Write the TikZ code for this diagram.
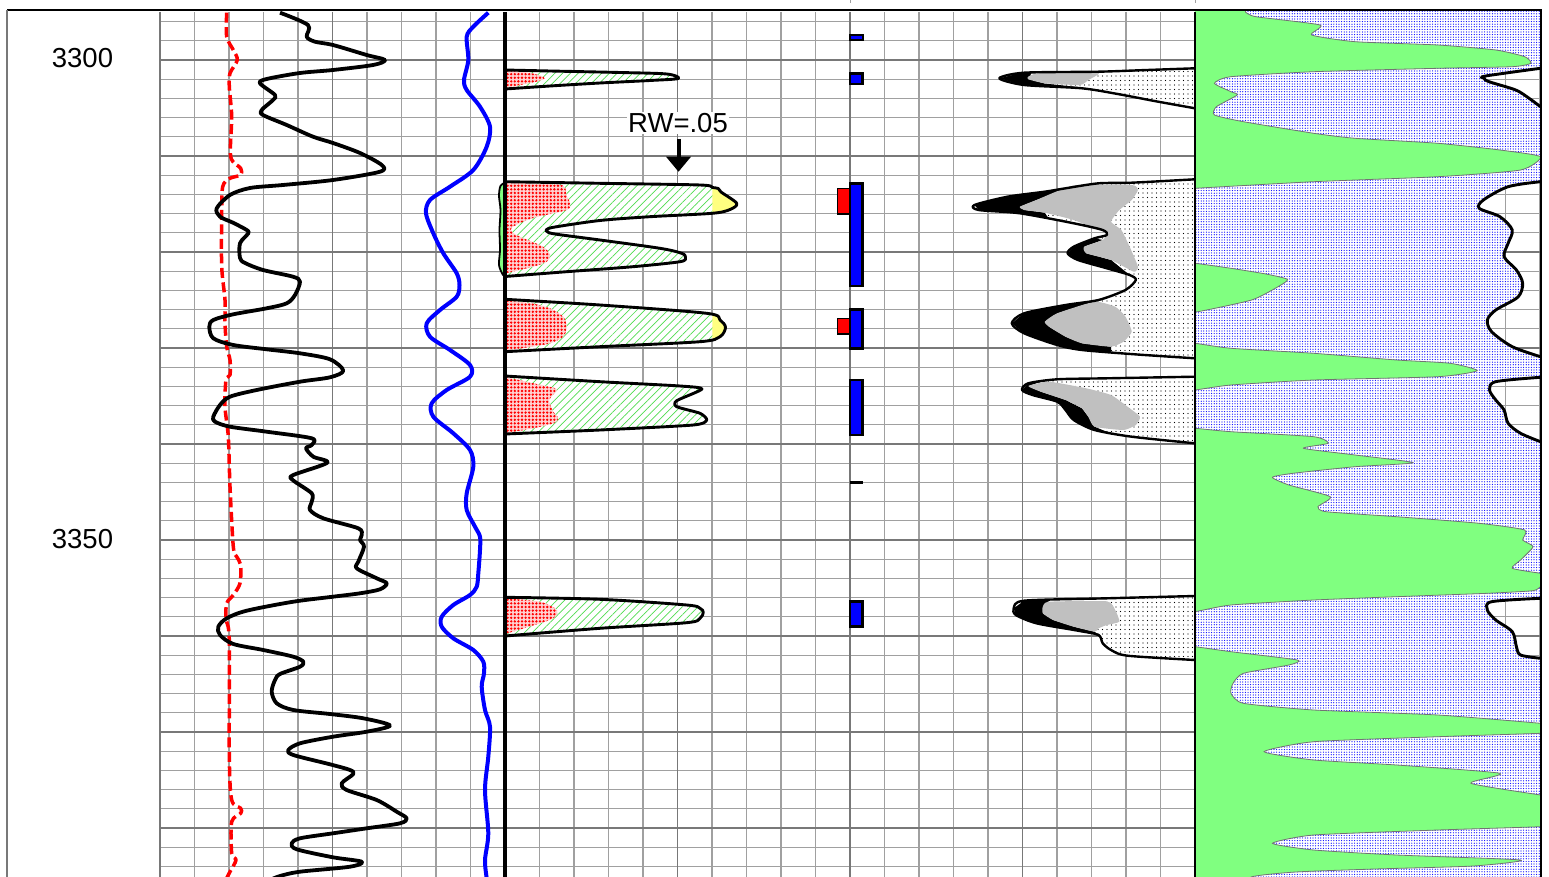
\documentclass[tikz,border=0pt]{standalone}
\usepackage{fontspec}
\setmainfont{Liberation Sans}
\usetikzlibrary{patterns.meta,arrows.meta}
\definecolor{gridc}{RGB}{160,160,160}
\definecolor{gridm}{RGB}{120,120,120}
\definecolor{lgreen}{RGB}{128,255,128}
\definecolor{lyellow}{RGB}{255,255,128}
\definecolor{lgrey}{RGB}{192,192,192}
\definecolor{hatchc}{RGB}{80,220,80}
\tikzset{
  gridminor/.style={draw=gridc, line width=1.2pt},
  gridmajor/.style={draw=gridm, line width=1.6pt},
  hatchfill/.style={pattern={Lines[angle=45,distance=5.5pt,line width=0.7pt]}, pattern color=hatchc},
  reddots/.style={pattern={Dots[radius=1.3pt,distance=3.6pt]}, pattern color=red},
  blkdots/.style={pattern={Dots[radius=0.65pt,distance=4.5pt]}, pattern color=black},
  bluedots/.style={pattern={Dots[radius=0.62pt,distance=2.6pt]}, pattern color=blue},
  corr/.style={xshift=10.08pt, xscale=0.9888},
  shapeline/.style={draw=black, line width=2.9pt, line join=round},
  lbl/.style={font=\fontsize{27.5}{30}\selectfont, inner sep=1pt},
  bluebar/.style={fill=blue, draw=black, line width=2.6pt},
  redbar/.style={fill=red, draw=black, line width=1.3pt},
  logcurve/.style={line width=3.8pt, line join=round}
}
\newcommand\loggrid{%
  \foreach \k in {-2,...,42}{\draw[gridminor] (160,{60+19.2*\k}) -- (1540,{60+19.2*\k});}
  \foreach \j in {0,...,40}{\draw[gridminor] ({160+34.5*\j},12) -- ({160+34.5*\j},877);}
  \foreach \yy in {60,156,...,828}{\draw[gridmajor] (160,\yy) -- (1540,\yy);}
  \foreach \xx in {160,332.5,677.5,850,1022.5,1195,1367.5}{\draw[gridmajor] (\xx,12) -- (\xx,877);}
}
% track 2 shapes
\def\lgA{plot[smooth,tension=0.5] coordinates {(505,70) (550,71) (620,72.5) (666.7,74) (678.3,78.5) (650,80.5) (600,83) (550,86) (505,89)}}
\def\rdA{plot[smooth,tension=0.5] coordinates {(505,70.5) (525,72) (540,75.5) (545,78.5) (535,82) (520,85) (505,88)}}
\def\lgB{plot[smooth,tension=0.5] coordinates {(505,181.7) (600,183.3) (700,185) (712.3,187.5) (718.3,188.5) (721,192) (736.7,203.3) (730,209.5) (712.3,213.3) (650,216.7) (600,220.5) (555,227) (546.7,229.5) (547,231.5) (555,234) (600,240) (660,248.3) (681.7,253.3) (685.5,257.5) (680,261.7) (633,266.7) (566.7,271.7) (505,276.5)}}
\def\rdB{plot[smooth,tension=0.5] coordinates {(505,182) (540,184) (563,185.5) (567,196.7) (570,203) (566.7,210) (533,218) (513,226.7) (511.7,231.7) (520,236.7) (543,246.7) (550,255) (546.7,261.7) (533,266.7) (505,273.5)}}
\def\lgC{plot[smooth,tension=0.5] coordinates {(505,299.3) (600,305) (706.7,313.3) (720,320) (725.5,327.3) (720,336.7) (700,341.7) (600,346.7) (505,351.7)}}
\def\rdC{plot[smooth,tension=0.5] coordinates {(505,300.7) (530,303) (550,308.3) (563.3,316.7) (566.7,326.7) (563.3,336.7) (550,343.3) (530,347) (505,350.7)}}
\def\lgD{plot[smooth,tension=0.4] coordinates {(505,376) (600,381.7) (680,386) (702,389) (676.7,400.7) (676.7,406.7) (700,413.3) (706.7,420) (693.3,425) (600,430) (505,434)}}
\def\rdD{plot[smooth,tension=0.5] coordinates {(505,376.7) (533.3,383.3) (551.7,387.3) (557,390) (549.3,400) (553.3,411.7) (558.3,418.3) (553.3,423.3) (533.3,428.3) (505,433.3)}}
\def\lgE{plot[smooth,tension=0.5] coordinates {(505,597.3) (600,599.3) (686.7,605) (700,608.3) (703.3,612.3) (700,618.3) (686.7,622.7) (600,628.3) (505,636)}}
\def\rdE{plot[smooth,tension=0.5] coordinates {(505,598.3) (540,601.7) (555,608.3) (557.3,613.3) (553.3,618.3) (540,623.3) (505,634)}}
% track 3 shapes
\def\tcF{plot[smooth,tension=0.45] coordinates {(1198.3,68.3) (1150,70) (1100.8,71.7) (1025.5,72.7) (1000.4,78.3) (1025.5,85) (1084,88.3) (1121.8,94.3) (1160,101.5) (1198.3,108.3)}}
\def\tcG{plot[smooth,tension=0.45] coordinates {(1198.3,179.3) (1134.3,182.7) (1100.8,183.3) (1067.4,188.3) (1046.4,191.7) (1008.8,196.7) (975.3,205) (979.5,210) (1021.3,213.3) (1075.7,223.3) (1105,230) (1109.2,235) (1096.7,238.3) (1075.7,246.7) (1069.5,253.3) (1080,260) (1109.2,268.3) (1132.2,275) (1138.5,280) (1128,290) (1100.8,300) (1067.4,305) (1025.5,313.3) (1013,323.3) (1025.5,333.3) (1059,345) (1084,350) (1140,354.5) (1198.3,358.3)}}
\def\tcH{plot[smooth,tension=0.45] coordinates {(1198.3,376.7) (1109.2,378.3) (1059,379.3) (1029.7,383.3) (1023.4,390) (1034,395) (1059,401.7) (1067.4,410) (1075.7,420) (1096.7,430) (1134.3,436.7) (1198.3,443.3)}}
\def\tcI{plot[smooth,tension=0.45] coordinates {(1198.3,596) (1109.2,598.3) (1025.5,600.7) (1015,608.3) (1017.2,615) (1038,623.3) (1080,630.7) (1100.8,635) (1105,643.3) (1113.4,650) (1130.1,655.7) (1198.3,660)}}
% track 4 white regions (right of black curve)
\def\wA{plot[smooth,tension=0.5] coordinates {(1547.7,68.3) (1492.3,76) (1490.6,78.3) (1495.7,81.7) (1522.7,90) (1536.2,98.3) (1547.7,106.7)}}
\def\wB{plot[smooth,tension=0.5] coordinates {(1547.7,181.7) (1515,186.7) (1490,200) (1485.8,208.3) (1506.7,216.7) (1519.2,230) (1515,243.3) (1510.9,256.7) (1523.4,270) (1529.7,283.3) (1525,297) (1502.5,310) (1494,320) (1498.3,331.7) (1519.2,346.7) (1547.7,356.7)}}
\def\wC{plot[smooth,tension=0.5] coordinates {(1547.7,377.3) (1502.5,381.7) (1496.2,390) (1502.5,400) (1510.9,410) (1515,423.3) (1527.6,433.3) (1547.7,441.7)}}
\def\wD{plot[smooth,tension=0.5] coordinates {(1547.7,598.3) (1498.3,601.7) (1494,610) (1502.5,620) (1519.2,631.7) (1523.4,646.7) (1527.6,655) (1547.7,658.3)}}
\begin{document}
\begin{tikzpicture}[x=1pt,y=-1pt]
\useasboundingbox (0,0) rectangle (1549,877);
\clip (0,0) rectangle (1549,877);
\fill[white] (0,0) rectangle (1549,877);
\loggrid
% frame
\draw[black, line width=1.8pt] (7,10) -- (1541,10);
\draw[gridm, line width=2.2pt] (7,10) -- (7,877);
\draw[gridc, line width=1pt] (850,0) -- (850,3);
\draw[gridc, line width=1pt] (1195,0) -- (1195,3);
% depth labels
\node[lbl] (d3300) at (82.5,58.5) {3300};
\node[lbl] (d3350) at (82.5,539) {3350};
% track 1 curves
\draw[red, logcurve, line width=3.5pt, dash pattern=on 10pt off 4.5pt] plot[smooth,tension=0.5] coordinates {(226.7,12.7) (226.7,36.7) (233.3,50) (237.3,60) (230,73.3) (229.3,86.7) (231.7,116.7) (230.7,156.7) (240.7,168.3) (240.7,175) (230,178.3) (222.7,186.7) (221.7,216.7) (221.7,266.7) (225,300) (225,323.3) (226.7,346.7) (230,360) (230,375) (226,380) (225,406.7) (228.3,436.7) (230,486.7) (233.3,546.7) (236.7,556.7) (240.7,565) (240,583.3) (233.3,595) (226.7,603.3) (226,620) (229.3,640) (229.3,756.7) (231.7,800) (240.7,808.3) (240.7,813.3) (231.7,821.7) (231.7,853.3) (236,860) (230,871.7) (226.7,878)};
\draw[black, logcurve] plot[smooth,tension=0.5] coordinates {(280,12.7) (308,25) (306.7,36.7) (315,41.7) (333,45) (366.7,55) (385,60) (373,65) (333,70) (300,73) (266.7,79) (260,83.3) (275,95) (273,100) (261.7,110) (263,115) (286.7,125) (313,136.7) (333,143) (360,153) (381.7,165) (380,171.7) (333,180) (283,185) (250,188) (230,195) (216.7,208.3) (220,216.7) (233,222.7) (246.7,230) (248.3,233.3) (240,243.3) (240,258) (245,263) (263,270) (293,276.7) (300,281.7) (295,295) (286.7,303.3) (266.7,308.3) (233.3,314.3) (213.3,320) (209.3,326.7) (213.3,338.3) (233.3,345) (266.7,349.3) (300,353.3) (330,359.3) (343.3,370.7) (330,377.3) (300,381.7) (256.7,390) (230,396.7) (220,405) (213.3,416.7) (215,421.7) (230,426.7) (266.7,431.7) (311.7,438.3) (311.7,445) (306,448.3) (313.3,456.7) (327.3,462.7) (293.3,475) (292.7,480) (311.7,493.3) (311.7,501.7) (310,510) (323.3,518.3) (358.3,528.3) (361.7,535) (360,540) (364,546.7) (358.3,561.7) (356.7,568.3) (376.7,578.3) (386.7,583.3) (380,589.3) (360,593.3) (333,596.7) (293.3,601.7) (246.7,610.7) (226.7,618.3) (218.3,626.7) (220,635) (233.3,644) (263.3,650) (293.3,656.7) (303.3,661.7) (300,666.7) (280,674) (275,680) (271.7,691.7) (276.7,703.3) (293.3,710) (330,714) (363.3,718.3) (390,725.5) (366.7,731.7) (333,736.7) (300,743.3) (288.3,750) (293.3,755) (330,764.3) (350,770) (353.3,774) (341.7,783.3) (346.7,790) (376.7,800) (396.7,811.7) (406.7,818.3) (400,823.3) (366.7,828.3) (333,833.3) (300,838.3) (291.7,843.3) (296.7,849.3) (333,857.3) (361.7,861.7) (350,866.7) (300,871.7) (280,876) (270,880)};
\draw[blue, logcurve, line width=4pt] plot[smooth,tension=0.5] coordinates {(488.3,12.7) (473.3,26.7) (466.7,36.7) (468.3,60) (464,80) (466.7,90) (480,106.7) (490,126.7) (486.7,146.7) (473.3,170) (450,186.7) (430,200) (426,213.3) (433.3,233.3) (443.3,253.3) (456.7,273.3) (459.5,285) (456.7,296.7) (440,310) (426.7,323.3) (430,336.7) (450,350) (470,365) (470,376.7) (446.7,390) (431.7,403.3) (433.3,416.7) (453.3,433.3) (470,450) (473.3,466.7) (466.7,493.3) (466.7,510) (475,526.7) (480,536.7) (480,550) (478.3,573.3) (476.7,586.7) (470,595) (453.3,605) (441.7,616.7) (441.7,626.7) (453.3,638.3) (473.3,650) (483.3,661.7) (484,673.3) (481.7,686.7) (485,710) (490,726.7) (488.3,756.7) (485,790) (488.3,833.3) (485,860) (486.7,878)};
% track 2 shapes
\foreach \s in {\lgA,\lgB,\lgC,\lgD,\lgE}{\fill[white] \s -- cycle; \path[hatchfill] \s -- cycle;}
\begin{scope}
  \clip (712.3,150) rectangle (760,360);
  \fill[lyellow] \lgB -- cycle;
  \fill[lyellow] \lgC -- cycle;
\end{scope}
\foreach \s in {\rdA,\rdB,\rdC,\rdD,\rdE}{\fill[red!18] \s -- cycle; \path[reddots] \s -- cycle;}
\foreach \s in {\lgA,\lgB,\lgC,\lgD,\lgE}{\draw[shapeline] \s;}
\filldraw[fill=lgreen, draw=black, line width=1.8pt] plot[smooth,tension=0.5] coordinates {(506,182) (500.5,186) (499,196) (500.5,210) (499.5,230) (500,250) (499,265) (503,275) (506,276)} -- cycle;
\draw[black, line width=3.6pt] (505,12) -- (505,877);
% bars
\filldraw[bluebar, line width=2pt] (850,35.5) rectangle (862.7,40.5);
\filldraw[bluebar] (850,73.3) rectangle (862.7,84);
\filldraw[bluebar] (850,183.3) rectangle (862.7,286);
\filldraw[redbar] (837.7,188.3) rectangle (850,214);
\filldraw[bluebar] (850,309.3) rectangle (862.7,348.3);
\filldraw[redbar] (837.7,318.3) rectangle (850,334);
\filldraw[bluebar] (850,380) rectangle (862.7,435);
\draw[black, line width=2.6pt] (850,482.3) -- (862.7,482.3);
\filldraw[bluebar] (850,601.7) rectangle (862.7,626.7);
% track 3
\begin{scope}[corr]
  \foreach \s in {\tcF,\tcG,\tcH,\tcI}{\fill[white] \s -- cycle; \path[blkdots] \s -- cycle;}
  % black bands
  \fill[black] (1000.4,78.3) -- (1018,74) -- (1033,72.8) -- (1030,79) -- (1046,83.5) -- (1084,87.5) -- (1025.5,85.5) -- cycle;
  \fill[black] (1086,184.8) -- (1067.4,188.3) -- (1046.4,191.7) -- (1008.8,196.7) -- (975.3,205) -- (979.5,210) -- (1021.3,213.3) -- (1050,218) -- (1046.4,212.7) -- (1025.5,210) -- (1021.3,206.7) -- (1038,200) -- (1075.7,186) -- cycle;
  \fill[black] (1096.7,238.3) -- (1075.7,246.7) -- (1069.5,253.3) -- (1080,260) -- (1109.2,268.3) -- (1132.2,275) -- (1113.4,260) -- (1088.3,253.3) -- (1086.2,246.7) -- (1105,240) -- cycle;
  \fill[black] (1100.8,300) -- (1067.4,305) -- (1025.5,313.3) -- (1013,323.3) -- (1025.5,333.3) -- (1059,345) -- (1084,350) -- (1113.4,352) -- (1113.4,346.7) -- (1084,343.3) -- (1067.4,336.7) -- (1050.6,326.7) -- (1046.4,321.7) -- (1059,313.3) -- (1096.7,301.7) -- cycle;
  \fill[black] (1029.7,383.3) -- (1023.4,390) -- (1034,395) -- (1059,401.7) -- (1067.4,410) -- (1075.7,420) -- (1096.7,430) -- (1112,433) -- (1096.7,426.7) -- (1090.4,416.7) -- (1084,408.3) -- (1067.4,400) -- (1042.3,391.7) -- (1029.7,386) -- (1045,381) -- cycle;
  \fill[black] (1025.5,600.7) -- (1015,608.3) -- (1017.2,615) -- (1038,623.3) -- (1080,630.7) -- (1100.8,635) -- (1096.7,631.7) -- (1075.7,626.7) -- (1054.8,620) -- (1044.4,613.3) -- (1044.4,606.7) -- (1050.6,601.7) -- (1045,599.8) -- cycle;
  % grey
  \fill[lgrey] plot[smooth cycle,tension=0.3] coordinates {(1029.7,76.7) (1040,73.3) (1100.8,72.5) (1090.4,80) (1082,85) (1046.4,83.3) (1029.7,79.3)};
  \fill[lgrey] plot[smooth cycle,tension=0.3] coordinates {(1021.3,206.7) (1038,200) (1075.7,185.5) (1134.3,185) (1140.6,190) (1134.3,200) (1121.8,210) (1113.4,221.7) (1123.8,230) (1132.2,246.7) (1140.6,266.7) (1136.4,271.7) (1113.4,260) (1088.3,253.3) (1086.2,246.7) (1105,240) (1109.2,233.3) (1100.8,230) (1075.7,220) (1046.4,212.7) (1025.5,210)};
  \fill[lgrey] plot[smooth cycle,tension=0.3] coordinates {(1046.4,321.7) (1059,313.3) (1096.7,301.7) (1117.6,306.7) (1128,316.7) (1134.3,331.7) (1126,341.7) (1113.4,346.7) (1084,343.3) (1067.4,336.7) (1050.6,326.7)};
  \fill[lgrey] plot[smooth cycle,tension=0.3] coordinates {(1029.7,386) (1050.6,381.7) (1088.3,388.3) (1113.4,395) (1130.1,406.7) (1142.7,416.7) (1138.5,425) (1126,430) (1096.7,426.7) (1090.4,416.7) (1084,408.3) (1067.4,400) (1042.3,391.7)};
  \fill[lgrey] plot[smooth cycle,tension=0.3] coordinates {(1044.4,606.7) (1050.6,601.7) (1109.2,601.3) (1117.6,610) (1121.8,621.7) (1109.2,625) (1100.8,628.3) (1096.7,631.7) (1075.7,626.7) (1054.8,620) (1044.4,613.3)};
  \foreach \s in {\tcF,\tcG,\tcH,\tcI}{\draw[shapeline, line width=2.4pt] \s;}
\end{scope}
% track 4
\begin{scope}[corr]
  \begin{scope}
    \clip (1198.3,12) rectangle (1547.7,877);
    \fill[white] (1198.3,12) rectangle (1547.7,877);
    \path[bluedots] (1198.3,12) rectangle (1547.7,877);
    \filldraw[fill=lgreen, draw=black!55, line width=0.8pt] (1185,0) -- (1249.4,0) -- plot[smooth,tension=0.35] coordinates {(1249.4,12) (1259.8,16.7) (1324.7,25) (1316.3,35) (1360.3,41.7) (1444,45) (1502.5,50) (1531.8,56.7) (1538,63.3) (1519.2,66.7) (1444,68.3) (1318.4,71.7) (1234.7,76.7) (1218,83.3) (1234.7,91.7) (1241,95) (1220,106.7) (1218,115) (1247.3,121.7) (1318.4,133.3) (1360.3,138.3) (1444,143.3) (1506.7,150) (1547.7,156.7) (1527.6,170) (1444,176.7) (1318.4,181.7) (1198.3,188.3) (1185,189)} -- cycle;
    \filldraw[fill=lgreen, draw=black!55, line width=0.8pt] plot[smooth,tension=0.35] coordinates {(1185,263.3) (1198.3,263.3) (1234.7,268.3) (1270,274) (1292,279.5) (1280,288) (1255.6,300) (1201.3,311.7) (1185,312)} -- cycle;
    \filldraw[fill=lgreen, draw=black!55, line width=0.8pt] plot[smooth,tension=0.35] coordinates {(1185,343.3) (1198.3,343.3) (1234.7,348.3) (1318.4,353.3) (1402.1,360) (1456.5,363.3) (1483.7,370.7) (1444,376.7) (1318.4,380) (1234.7,385) (1198.3,390) (1185,390)} -- cycle;
    \filldraw[fill=lgreen, draw=black!55, line width=0.8pt] plot[smooth,tension=0.35] coordinates {(1185,428.3) (1198.3,428.3) (1234.7,431.7) (1318.4,436.7) (1333,443.3) (1308,448.3) (1360.3,455) (1418.8,462.7) (1360.3,466.7) (1297.5,473.3) (1276.6,477.3) (1293.3,485) (1335.1,496.7) (1322.6,506.7) (1331,511.7) (1402.1,516.7) (1485.8,523.3) (1531.8,530) (1529.7,540) (1540.2,546.7) (1527.6,560) (1519.2,568.3) (1547.7,573.3) (1560,575) (1560,585) (1547.7,586.7) (1540.2,590.7) (1494,593.3) (1402,596.7) (1318.4,600) (1234.7,605) (1198.3,611.7) (1185,612)} -- cycle;
    \filldraw[fill=lgreen, draw=black!55, line width=0.8pt] plot[smooth,tension=0.35] coordinates {(1185,646.7) (1198.3,646.7) (1234.7,651.7) (1301.7,660) (1293.3,665) (1247.3,673.3) (1236.8,683.3) (1234.7,693.3) (1247.3,703.3) (1318.4,710) (1444,715) (1547.7,723.3) (1560,725) (1560,732) (1547.7,733.3) (1444,736.7) (1318.4,741.7) (1268.2,751.7) (1318.4,760) (1402.1,765) (1506.7,773.3) (1477.4,783.3) (1547.7,795) (1560,797) (1560,825) (1547.7,826.7) (1444,830) (1318.4,835) (1276.6,843.3) (1318.4,850) (1402.1,855) (1527.6,860) (1480,866) (1380,869) (1300,872) (1255,877) (1250,890) (1185,890)} -- cycle;
  \end{scope}
  \foreach \s in {\wA,\wB,\wC,\wD}{%
    \begin{scope}
      \clip \s -- (1565,900) -- (1565,-10) -- cycle;
      \fill[white] (1400,0) rectangle (1560,877);
      \begin{scope}[reset cm]\loggrid\end{scope}
    \end{scope}}
  \foreach \s in {\wA,\wB,\wC,\wD}{\draw[black, line width=2.9pt] \s;}
\end{scope}
\draw[black, line width=1.6pt] (1195,12) -- (1195,877);
\draw[black, line width=1.8pt] (1541,9.3) -- (1541,877);
% RW label and arrow
\node[lbl, fill=white] (rw) at (678,123) {RW=.05};
\coordinate (rwfrom) at (678.5,139);
\coordinate (rwtip) at (678.5,171.7);
\draw[line width=4pt] (rwfrom) -- ([yshift=12pt]rwtip);
\fill (rwtip) -- ++(-12.5,-15) -- ++(25,0) -- cycle;
\end{tikzpicture}
\end{document}
